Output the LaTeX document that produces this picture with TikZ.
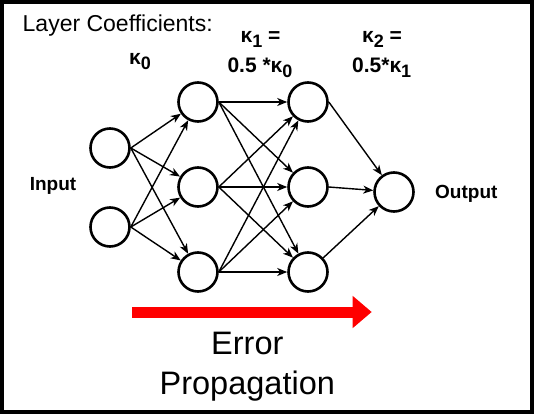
\documentclass[tikz,border=0pt]{standalone}
\usepackage{fontspec}
\setmainfont{Liberation Sans}
\definecolor{ErrorRed}{HTML}{FF0000}
\definecolor{FrameBlack}{HTML}{000000}
\usetikzlibrary{arrows.meta}
\tikzset{
  neuron/.style={circle, draw=black, line width=2.6pt, fill=white, minimum size=39pt, inner sep=0pt},
  lbl/.style={inner sep=0pt, font=\fontsize{19}{23}\selectfont\bfseries},
  klbl/.style={inner sep=0pt, font=\fontsize{21}{25}\selectfont\bfseries},
  link/.style={-{Stealth[length=10pt, width=8pt, inset=3pt]}, line width=1.4pt, draw=black},
  errarrow/.style={-{Triangle[length=19pt, width=31pt]}, line width=11pt, draw=ErrorRed}
}
\newcommand{\ksub}[1]{\raisebox{-5pt}{\fontsize{18}{18}\selectfont\bfseries #1}}

\begin{document}
\begin{tikzpicture}[x=1pt, y=-1pt]
\useasboundingbox (0,0) rectangle (534,414);
\draw[draw=FrameBlack, line width=4pt] (2,2) rectangle (532,412);

% layers
\node[neuron] (in1) at (110,148) {};
\node[neuron] (in2) at (110,227) {};
\node[neuron] (h1a) at (198,102) {};
\node[neuron] (h1b) at (198,187) {};
\node[neuron] (h1c) at (198,272) {};
\node[neuron] (h2a) at (308,102) {};
\node[neuron] (h2b) at (308,187) {};
\node[neuron] (h2c) at (308,272) {};
\node[neuron] (out) at (394,192) {};

% texts
\node[inner sep=0pt, anchor=base west, font=\fontsize{23}{27}\selectfont] (title) at (22.5,31.7) {Layer Coefficients:};
\node[klbl, anchor=base] (kzero) at (140,65) {κ\ksub{0}};
\node[klbl, anchor=base] (kone) at (260.5,42.7) {κ\ksub{1} =};
\node[klbl, anchor=base] (koneval) at (260,72.7) {0.5 *κ\ksub{0}};
\node[klbl, anchor=base] (ktwo) at (382,42.7) {κ\ksub{2} =};
\node[klbl, anchor=base] (ktwoval) at (381.7,72.7) {0.5*κ\ksub{1}};
\node[lbl, anchor=base] (inlbl) at (53,190.7) {Input};
\node[lbl, anchor=base] (outlbl) at (466.3,198) {Output};
\node[inner sep=0pt, align=center, font=\fontsize{32.5}{40}\selectfont] (errtxt) at (247.3,366.5) {Error\\Propagation};

% input to first layer
\draw[link] (in1.east) -- (h1a);
\draw[link] (in1.east) -- (h1b);
\draw[link] (in1.east) -- (h1c);
\draw[link] (in2.east) -- (h1a);
\draw[link] (in2.east) -- (h1b);
\draw[link] (in2.east) -- (h1c);

% first layer to second layer
\draw[link] (h1a.east) -- (h2a);
\draw[link] (h1a.east) -- (h2b);
\draw[link] (h1a.east) -- (h2c);
\draw[link] (h1b.east) -- (h2a);
\draw[link] (h1b.east) -- (h2b);
\draw[link] (h1b.east) -- (h2c);
\draw[link] (h1c.east) -- (h2a);
\draw[link] (h1c.east) -- (h2b);
\draw[link] (h1c.east) -- (h2c);

% second layer to output
\draw[link] (h2a.east) -- (out);
\draw[link] (h2b.east) -- (out);
\draw[link] (h2c) -- (out);

% error arrow
\coordinate (errstart) at (132.3,312);
\coordinate (errend) at (371.7,312);
\draw[errarrow] (errstart) -- (errend);
\end{tikzpicture}
\end{document}
